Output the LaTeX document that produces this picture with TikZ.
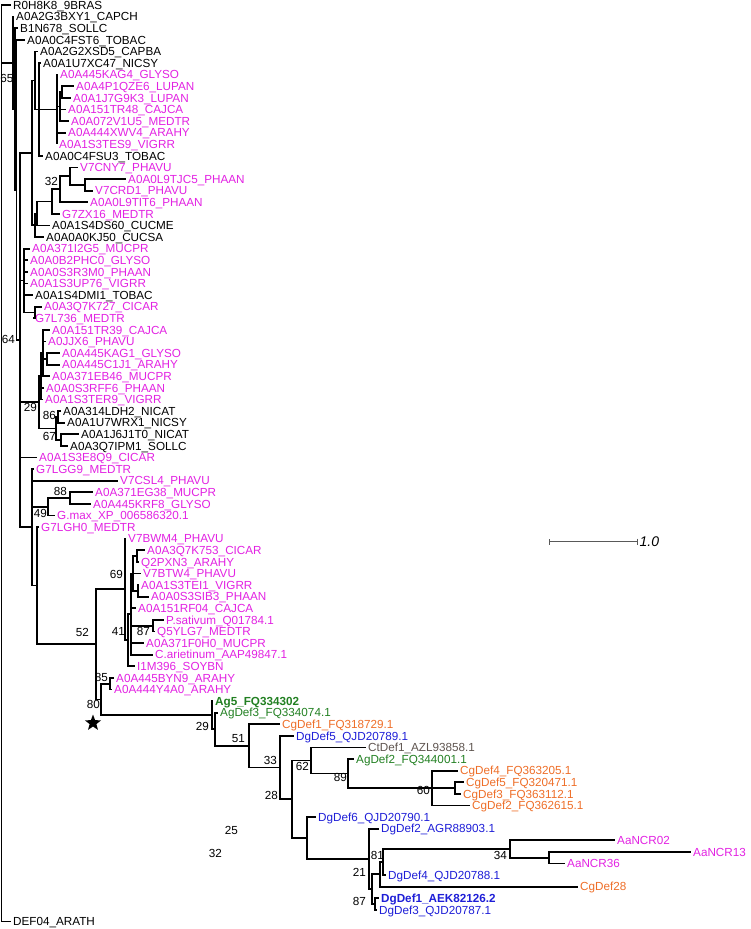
\documentclass[tikz,border=0pt]{standalone}
\usepackage{fontspec}
\setmainfont{Liberation Sans}
\usetikzlibrary{shapes.geometric,arrows.meta}
\definecolor{legume}{RGB}{226,34,226}
\definecolor{aggreen}{RGB}{34,128,34}
\definecolor{cgorange}{RGB}{238,110,40}
\definecolor{dgblue}{RGB}{30,30,215}
\definecolor{ctgray}{RGB}{95,85,80}
\newcommand{\treefont}{\fontsize{11.7}{13}\selectfont}

\begin{document}
\begin{tikzpicture}[x=1pt,y=-1pt,
  br/.style={line width=1.8pt},
  leaf/.style={anchor=west,inner xsep=2pt,inner ysep=0pt,text height=8.4pt,text depth=0pt,font=\treefont},
  boldleaf/.style={leaf,font=\treefont\bfseries},
  supp/.style={anchor=east,inner sep=0pt,text height=8.4pt,text depth=0pt,font=\treefont}]
\useasboundingbox (0,0) rectangle (750,929);

\node[leaf] (r0h) at (11,5) {R0H8K8\_9BRAS};
\node[leaf] (bxy1) at (14,16.6) {A0A2G3BXY1\_CAPCH};
\node[leaf] (b1n) at (18,28.2) {B1N678\_SOLLC};
\node[leaf] (fst6) at (25,39.8) {A0A0C4FST6\_TOBAC};
\node[leaf] (xsd5) at (38,51.4) {A0A2G2XSD5\_CAPBA};
\node[leaf] (xc47) at (41,63) {A0A1U7XC47\_NICSY};
\node[leaf,legume] (kag4) at (58,74.6) {A0A445KAG4\_GLYSO};
\node[leaf,legume] (qze6) at (74,86.2) {A0A4P1QZE6\_LUPAN};
\node[leaf,legume] (g9k3) at (71,97.8) {A0A1J7G9K3\_LUPAN};
\node[leaf,legume] (tr48) at (66,109.4) {A0A151TR48\_CAJCA};
\node[leaf,legume] (v1u5) at (69,121) {A0A072V1U5\_MEDTR};
\node[leaf,legume] (xwv4) at (66,132.6) {A0A444XWV4\_ARAHY};
\node[leaf,legume] (tes9) at (57,144.2) {A0A1S3TES9\_VIGRR};
\node[leaf] (fsu3) at (43,155.8) {A0A0C4FSU3\_TOBAC};
\node[leaf,legume] (cny7) at (78,167.4) {V7CNY7\_PHAVU};
\node[leaf,legume] (tjc5) at (126,179) {A0A0L9TJC5\_PHAAN};
\node[leaf,legume] (crd1) at (93,190.6) {V7CRD1\_PHAVU};
\node[leaf,legume] (tit6) at (88,202.2) {A0A0L9TIT6\_PHAAN};
\node[leaf,legume] (zx16) at (60,213.8) {G7ZX16\_MEDTR};
\node[leaf] (ds60) at (50,225.4) {A0A1S4DS60\_CUCME};
\node[leaf] (kj50) at (44,237) {A0A0A0KJ50\_CUCSA};
\node[leaf,legume] (i2g5) at (30,248.6) {A0A371I2G5\_MUCPR};
\node[leaf,legume] (phc0) at (28,260.2) {A0A0B2PHC0\_GLYSO};
\node[leaf,legume] (r3m0) at (28,271.8) {A0A0S3R3M0\_PHAAN};
\node[leaf,legume] (up76) at (28,283.4) {A0A1S3UP76\_VIGRR};
\node[leaf] (dmi1) at (33,295) {A0A1S4DMI1\_TOBAC};
\node[leaf,legume] (k727) at (42,306.6) {A0A3Q7K727\_CICAR};
\node[leaf,legume] (l736) at (33,318.2) {G7L736\_MEDTR};
\node[leaf,legume] (tr39) at (50,329.8) {A0A151TR39\_CAJCA};
\node[leaf,legume] (jjx6) at (46,341.4) {A0JJX6\_PHAVU};
\node[leaf,legume] (kag1) at (60,353) {A0A445KAG1\_GLYSO};
\node[leaf,legume] (c1j1) at (60,364.6) {A0A445C1J1\_ARAHY};
\node[leaf,legume] (eb46) at (50,376.2) {A0A371EB46\_MUCPR};
\node[leaf,legume] (rff6) at (44,387.8) {A0A0S3RFF6\_PHAAN};
\node[leaf,legume] (ter9) at (43,399.4) {A0A1S3TER9\_VIGRR};
\node[leaf] (ldh2) at (61,411) {A0A314LDH2\_NICAT};
\node[leaf] (wrx1) at (65,422.6) {A0A1U7WRX1\_NICSY};
\node[leaf] (j1t0) at (79,434.2) {A0A1J6J1T0\_NICAT};
\node[leaf] (ipm1) at (68,445.8) {A0A3Q7IPM1\_SOLLC};
\node[leaf,legume] (e8q9) at (37,457.4) {A0A1S3E8Q9\_CICAR};
\node[leaf,legume] (lgg9) at (34,469) {G7LGG9\_MEDTR};
\node[leaf,legume] (csl4) at (118,480.6) {V7CSL4\_PHAVU};
\node[leaf,legume] (eg38) at (93,492.2) {A0A371EG38\_MUCPR};
\node[leaf,legume] (krf8) at (91,503.8) {A0A445KRF8\_GLYSO};
\node[leaf,legume] (gmax) at (55,515.4) {G.max\_XP\_006586320.1};
\node[leaf,legume] (lgh0) at (39,527) {G7LGH0\_MEDTR};
\node[leaf,legume] (bwm4) at (126,538.6) {V7BWM4\_PHAVU};
\node[leaf,legume] (k753) at (145,550.2) {A0A3Q7K753\_CICAR};
\node[leaf,legume] (q2px) at (139,561.8) {Q2PXN3\_ARAHY};
\node[leaf,legume] (btw4) at (141,573.4) {V7BTW4\_PHAVU};
\node[leaf,legume] (tei1) at (139,585) {A0A1S3TEI1\_VIGRR};
\node[leaf,legume] (sib3) at (149,596.6) {A0A0S3SIB3\_PHAAN};
\node[leaf,legume] (rf04) at (136,608.2) {A0A151RF04\_CAJCA};
\node[leaf,legume] (psat) at (164,619.8) {P.sativum\_Q01784.1};
\node[leaf,legume] (q5yl) at (155,631.4) {Q5YLG7\_MEDTR};
\node[leaf,legume] (f0h0) at (144,643) {A0A371F0H0\_MUCPR};
\node[leaf,legume] (cari) at (153,654.6) {C.arietinum\_AAP49847.1};
\node[leaf,legume] (i1m3) at (135,666.2) {I1M396\_SOYBN};
\node[leaf,legume] (byn9) at (114,677.8) {A0A445BYN9\_ARAHY};
\node[leaf,legume] (y4a0) at (112,689.4) {A0A444Y4A0\_ARAHY};
\node[boldleaf,aggreen] (ag5) at (213,701) {Ag5\_FQ334302};
\node[leaf,aggreen] (agd3) at (218,712.6) {AgDef3\_FQ334074.1};
\node[leaf,cgorange] (cgd1) at (280,724.2) {CgDef1\_FQ318729.1};
\node[leaf,dgblue] (dgd5) at (294,735.8) {DgDef5\_QJD20789.1};
\node[leaf,ctgray] (ctd1) at (366,747.4) {CtDef1\_AZL93858.1};
\node[leaf,aggreen] (agd2) at (354,759) {AgDef2\_FQ344001.1};
\node[leaf,cgorange] (cgd4) at (458,770.6) {CgDef4\_FQ363205.1};
\node[leaf,cgorange] (cgd5) at (464,782.2) {CgDef5\_FQ320471.1};
\node[leaf,cgorange] (cgd3) at (461,793.8) {CgDef3\_FQ363112.1};
\node[leaf,cgorange] (cgd2) at (470,805.4) {CgDef2\_FQ362615.1};
\node[leaf,dgblue] (dgd6) at (316,817) {DgDef6\_QJD20790.1};
\node[leaf,dgblue] (dgd2) at (379,828.6) {DgDef2\_AGR88903.1};
\node[leaf,legume] (ncr02) at (615,840.2) {AaNCR02};
\node[leaf,legume] (ncr13) at (691,851.8) {AaNCR13};
\node[leaf,legume] (ncr36) at (565,863.4) {AaNCR36};
\node[leaf,dgblue] (dgd4) at (386,875) {DgDef4\_QJD20788.1};
\node[leaf,cgorange] (cgd28) at (578,886.6) {CgDef28};
\node[boldleaf,dgblue] (dgd1) at (379,898.2) {DgDef1\_AEK82126.2};
\node[leaf,dgblue] (dgd3) at (377,909.8) {DgDef3\_QJD20787.1};
\node[leaf] (def04) at (11,921.4) {DEF04\_ARATH};

\coordinate (root) at (1.5,463.2);
\coordinate (n65) at (13,62.8);
\coordinate (n2) at (15,109);
\coordinate (n3) at (16.5,190);
\coordinate (n64) at (20,340);
\coordinate (nA3) at (32,152.8);
\coordinate (nA1) at (35,80.4);
\coordinate (nA2) at (39,109.4);
\coordinate (nL) at (57,109.4);
\coordinate (nL1) at (60,106.5);
\coordinate (nL2) at (62,92);
\coordinate (nCu2) at (35,225.2);
\coordinate (nCu) at (37,213.5);
\coordinate (nG) at (52,201.5);
\coordinate (n32u) at (60,189.2);
\coordinate (nV) at (70,176.1);
\coordinate (nV2) at (85,184.8);
\coordinate (nB) at (24,280.5);
\coordinate (nB2) at (35,312.4);
\coordinate (nC) at (39,402.3);
\coordinate (nC1) at (41,376.2);
\coordinate (nC2) at (43,353);
\coordinate (nKag) at (47,358.8);
\coordinate (nNic) at (56,428.4);
\coordinate (n86) at (58,416.8);
\coordinate (n67) at (61,440);
\coordinate (nD) at (32,527.3);
\coordinate (n49) at (48,506.7);
\coordinate (n88) at (70,498);
\coordinate (nR) at (37,585.5);
\coordinate (n52) at (96,644.2);
\coordinate (n69) at (125,589.3);
\coordinate (n41) at (128,640.1);
\coordinate (nE1) at (131,614);
\coordinate (nE2) at (133,573.4);
\coordinate (nE4) at (137,556);
\coordinate (nE5) at (138,590.8);
\coordinate (n87u) at (153,625.6);
\coordinate (n80) at (101,699.4);
\coordinate (n85) at (110,683.6);
\coordinate (n29a) at (212,715.1);
\coordinate (n29b) at (215,729.2);
\coordinate (n51) at (249,745.9);
\coordinate (n33) at (280,767.5);
\coordinate (nX) at (292,799.2);
\coordinate (n62) at (311,760.5);
\coordinate (n89) at (348,773.5);
\coordinate (n60) at (432,788);
\coordinate (nCg) at (455,788);
\coordinate (n25) at (307,838);
\coordinate (n32l) at (369,858.9);
\coordinate (n21) at (372,889.2);
\coordinate (nDa) at (380,874.3);
\coordinate (nDb) at (383,862);
\coordinate (n34) at (510,849);
\coordinate (nNcr) at (549,857.6);
\coordinate (n87l) at (375,904);

\draw[br] (root) |- (r0h.west) (root) |- (n65) (root) |- (def04.west);
\draw[br] (n65) |- (bxy1.west) (n65) |- (n2);
\draw[br] (n2) |- (b1n.west) (n2) |- (n3);
\draw[br] (n3) |- (fst6.west) (n3) |- (n64);
\draw[br] (n64) |- (nA3) (n64) |- (nB) (n64) |- (nC) (n64) |- (e8q9.west) (n64) |- (nD);
\draw[br] (nA3) |- (nA1) (nA3) |- (nCu2);
\draw[br] (nA1) |- (xsd5.west) (nA1) |- (nA2);
\draw[br] (nA2) |- (xc47.west) (nA2) |- (nL) (nA2) |- (fsu3.west);
\draw[br] (nL) |- (kag4.west) (nL) |- (nL1) (nL) |- (xwv4.west) (nL) |- (tes9.west);
\draw[br] (nL1) |- (nL2) (nL1) |- (tr48.west) (nL1) |- (v1u5.west);
\draw[br] (nL2) |- (qze6.west) (nL2) |- (g9k3.west);
\draw[br] (nCu2) |- (nCu) (nCu2) |- (kj50.west);
\draw[br] (nCu) |- (nG) (nCu) |- (ds60.west);
\draw[br] (nG) |- (n32u) (nG) |- (zx16.west);
\draw[br] (n32u) |- (nV) (n32u) |- (tit6.west);
\draw[br] (nV) |- (cny7.west) (nV) |- (nV2);
\draw[br] (nV2) |- (tjc5.west) (nV2) |- (crd1.west);
\draw[br] (nB) |- (i2g5.west) (nB) |- (phc0.west) (nB) |- (r3m0.west) (nB) |- (up76.west) (nB) |- (dmi1.west) (nB) |- (nB2);
\draw[br] (nB2) |- (k727.west) (nB2) |- (l736.west);
\draw[br] (nC) |- (nC1) (nC) |- (nNic);
\draw[br] (nC1) |- (nC2) (nC1) |- (rff6.west) (nC1) |- (ter9.west);
\draw[br] (nC2) |- (tr39.west) (nC2) |- (jjx6.west) (nC2) |- (nKag) (nC2) |- (eb46.west);
\draw[br] (nKag) |- (kag1.west) (nKag) |- (c1j1.west);
\draw[br] (nNic) |- (n86) (nNic) |- (n67);
\draw[br] (n86) |- (ldh2.west) (n86) |- (wrx1.west);
\draw[br] (n67) |- (j1t0.west) (n67) |- (ipm1.west);
\draw[br] (nD) |- (lgg9.west) (nD) |- (csl4.west) (nD) |- (n49) (nD) |- (nR);
\draw[br] (n49) |- (n88) (n49) |- (gmax.west);
\draw[br] (n88) |- (eg38.west) (n88) |- (krf8.west);
\draw[br] (nR) |- (lgh0.west) (nR) |- (n52);
\draw[br] (n52) |- (n69) (n52) |- (n80);
\draw[br] (n69) |- (bwm4.west) (n69) |- (n41);
\draw[br] (n41) |- (nE1) (n41) |- (i1m3.west);
\draw[br] (nE1) |- (nE2) (nE1) |- (rf04.west) (nE1) |- (n87u) (nE1) |- (f0h0.west) (nE1) |- (cari.west);
\draw[br] (nE2) |- (nE4) (nE2) |- (btw4.west) (nE2) |- (nE5);
\draw[br] (nE4) |- (k753.west) (nE4) |- (q2px.west);
\draw[br] (nE5) |- (tei1.west) (nE5) |- (sib3.west);
\draw[br] (n87u) |- (psat.west) (n87u) |- (q5yl.west);
\draw[br] (n80) |- (n85) (n80) |- (n29a);
\draw[br] (n85) |- (byn9.west) (n85) |- (y4a0.west);
\draw[br] (n29a) |- (ag5.west) (n29a) |- (n29b);
\draw[br] (n29b) |- (agd3.west) (n29b) |- (n51);
\draw[br] (n51) |- (cgd1.west) (n51) |- (n33);
\draw[br] (n33) |- (dgd5.west) (n33) |- (nX);
\draw[br] (nX) |- (n62) (nX) |- (n25);
\draw[br] (n62) |- (ctd1.west) (n62) |- (n89);
\draw[br] (n89) |- (agd2.west) (n89) |- (n60);
\draw[br] (n60) |- (cgd4.west) (n60) |- (nCg) (n60) |- (cgd2.west);
\draw[br] (nCg) |- (cgd5.west) (nCg) |- (cgd3.west);
\draw[br] (n25) |- (dgd6.west) (n25) |- (n32l);
\draw[br] (n32l) |- (dgd2.west) (n32l) |- (n21);
\draw[br] (n21) |- (nDa) (n21) |- (n87l);
\draw[br] (nDa) |- (nDb) (nDa) |- (cgd28.west);
\draw[br] (nDb) |- (n34) (nDb) |- (dgd4.west);
\draw[br] (n34) |- (ncr02.west) (n34) |- (nNcr);
\draw[br] (nNcr) |- (ncr13.west) (nNcr) |- (ncr36.west);
\draw[br] (n87l) |- (dgd1.west) (n87l) |- (dgd3.west);

\node[supp,anchor=west] (s65) at (0.2,78) {65};
\node[supp] (s32u) at (58,181) {32};
\node[supp] (s64) at (15,339) {64};
\node[supp] (s29u) at (37,407) {29};
\node[supp] (s86) at (56,415) {86};
\node[supp] (s67) at (56,436) {67};
\node[supp] (s88) at (67,491) {88};
\node[supp] (s49) at (47,513) {49};
\node[supp] (s69) at (123,574) {69};
\node[supp] (s52) at (89,632) {52};
\node[supp] (s41) at (125,631) {41};
\node[supp] (s87u) at (150,631) {87};
\node[supp] (s85) at (108,677) {85};
\node[supp] (s80) at (100,704) {80};
\node[supp] (s29l) at (209,726) {29};
\node[supp] (s51) at (245,738) {51};
\node[supp] (s33) at (277,760) {33};
\node[supp] (s62) at (309,766) {62};
\node[supp] (s28) at (278,795) {28};
\node[supp] (s89) at (347,777) {89};
\node[supp] (s60) at (430,790) {60};
\node[supp] (s25) at (238,830) {25};
\node[supp] (s32l) at (222,853) {32};
\node[supp] (s81) at (384,855) {81};
\node[supp] (s34) at (507,855) {34};
\node[supp] (s21) at (366,872) {21};
\node[supp] (s87l) at (366,901) {87};

\node[star,star points=5,star point ratio=2.4,fill=black,minimum size=17pt,inner sep=0pt] (star80) at (93,723) {};

\coordinate (sbl) at (549,541.5);
\coordinate (sbr) at (638,541.5);
\draw[line width=1pt,black!65,{Bar[width=6pt]}-{Bar[width=6pt]}] (sbl) -- (sbr);
\node[anchor=west,inner sep=1.5pt,font=\fontsize{14}{16}\selectfont\itshape] (sbtxt) at (sbr) {1.0};
\end{tikzpicture}
\end{document}
